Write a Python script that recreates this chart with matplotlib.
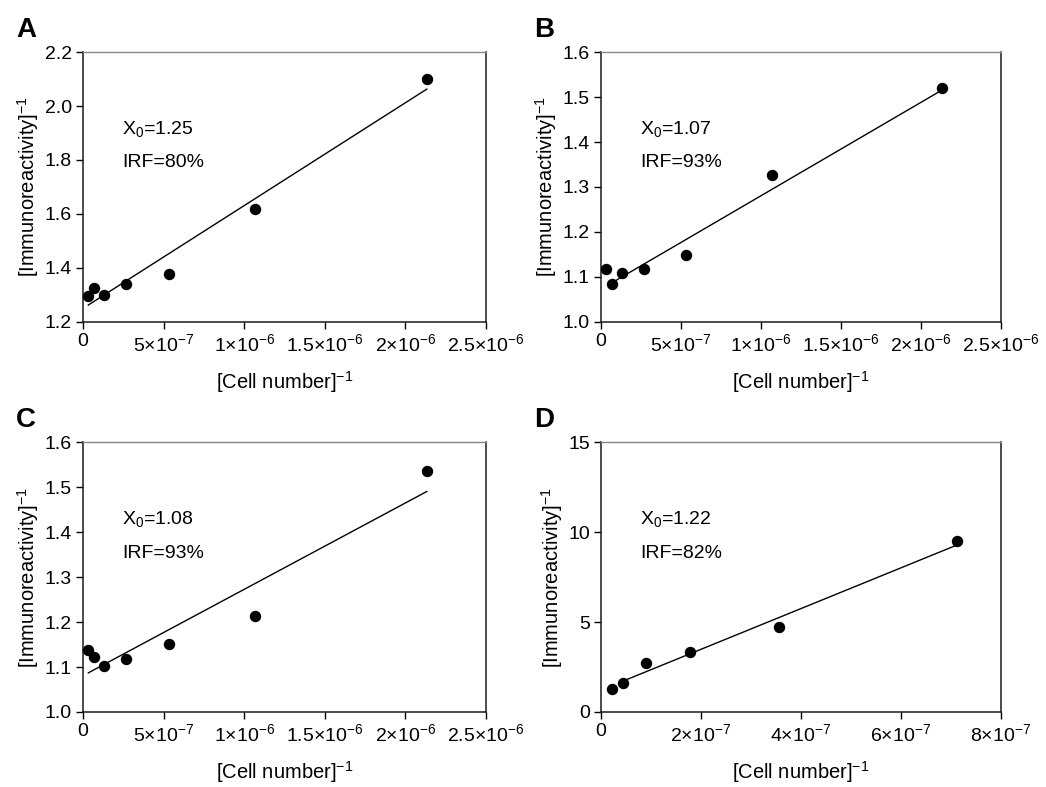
import matplotlib
matplotlib.use('Agg')
import matplotlib.pyplot as plt
import numpy as np

plt.rcParams['font.family'] = ['Liberation Sans', 'DejaVu Sans']
plt.rcParams['mathtext.fontset'] = 'custom'
plt.rcParams['mathtext.rm'] = 'Liberation Sans'
plt.rcParams['mathtext.it'] = 'Liberation Sans'

# --- Data ---
x_abc = [3.33e-8, 6.67e-8, 1.33e-7, 2.67e-7, 5.33e-7, 1.067e-6, 2.133e-6]
y_a = [1.295, 1.324, 1.301, 1.340, 1.379, 1.618, 2.100]
y_b = [1.117, 1.085, 1.108, 1.117, 1.148, 1.327, 1.520]
y_c = [1.137, 1.122, 1.102, 1.117, 1.152, 1.213, 1.535]
x_d = [2.2e-8, 4.45e-8, 8.9e-8, 1.78e-7, 3.56e-7, 7.12e-7]
y_d = [1.28, 1.62, 2.73, 3.32, 4.73, 9.50]

# fitted lines: intercept, slope, x range
fit_a = (1.25, 3.81e5, 3.33e-8, 2.133e-6)
fit_b = (1.073, 2.076e5, 6.67e-8, 2.133e-6)
fit_c = (1.0806, 1.92e5, 3.33e-8, 2.133e-6)
fit_d = (1.22, 1.132e7, 4.45e-8, 7.12e-7)

x0_labels = ['1.25', '1.07', '1.08', '1.22']
irf_labels = ['80%', '93%', '93%', '82%']

xticks_abc = [0, 5e-7, 1e-6, 1.5e-6, 2e-6, 2.5e-6]
xticklabels_abc = ['0', r'5×10$^{-7}$', r'1×10$^{-6}$', r'1.5×10$^{-6}$',
                   r'2×10$^{-6}$', r'2.5×10$^{-6}$']
xticks_d = [0, 2e-7, 4e-7, 6e-7, 8e-7]
xticklabels_d = ['0', r'2×10$^{-7}$', r'4×10$^{-7}$', r'6×10$^{-7}$', r'8×10$^{-7}$']

yticks_a = [1.2, 1.4, 1.6, 1.8, 2.0, 2.2]
yticks_bc = [1.0, 1.1, 1.2, 1.3, 1.4, 1.5, 1.6]
yticks_d = [0, 5, 10, 15]

fig = plt.figure(figsize=(10.46, 7.87), dpi=100)

panels = [
    ('A', [0.0793, 0.5909, 0.3853, 0.343], x_abc, y_a, fit_a, xticks_abc, xticklabels_abc, yticks_a, '%.1f'),
    ('B', [0.5746, 0.5909, 0.3824, 0.343], x_abc, y_b, fit_b, xticks_abc, xticklabels_abc, yticks_bc, '%.1f'),
    ('C', [0.0793, 0.0953, 0.3853, 0.343], x_abc, y_c, fit_c, xticks_abc, xticklabels_abc, yticks_bc, '%.1f'),
    ('D', [0.5746, 0.0953, 0.3824, 0.343], x_d, y_d, fit_d, xticks_d, xticklabels_d, yticks_d, '%d'),
]

for i, (letter, rect, xs, ys, fit, xt, xtl, yt, yfmt) in enumerate(panels):
    ax = fig.add_axes(rect)
    b0, b1, xa, xb = fit
    lx = np.array([xa, xb])
    ax.plot(lx, b0 + b1 * lx, color='black', lw=1.0, zorder=2)
    ax.plot(xs, ys, 'o', color='black', ms=7.2, zorder=3, clip_on=False)

    ax.set_xlim(xt[0], xt[-1])
    ax.set_ylim(yt[0], yt[-1])
    ax.set_xticks(xt)
    ax.set_xticklabels(xtl)
    ax.set_yticks(yt)
    ax.set_yticklabels([yfmt % v for v in yt])
    ax.tick_params(direction='out', length=5, width=1.0, labelsize=14, colors='black', pad=3)

    for s in ['left', 'bottom', 'right']:
        ax.spines[s].set_color('#1a1a1a')
        ax.spines[s].set_linewidth(1.1)
    ax.spines['top'].set_color('#888888')
    ax.spines['top'].set_linewidth(1.0)

    ax.set_xlabel('[Cell number]$^{-1}$', fontsize=14.5, labelpad=10.5)
    ax.set_ylabel('[Immunoreactivity]$^{-1}$', fontsize=14.5, labelpad=2.5)

    ax.text(0.097, 0.715, 'X$_0$=' + x0_labels[i], transform=ax.transAxes,
            fontsize=14, va='center', ha='left')
    ax.text(0.097, 0.589, 'IRF=' + irf_labels[i], transform=ax.transAxes,
            fontsize=14, va='center', ha='left')

    fx = rect[0] - 0.064
    fy = rect[1] + rect[3] + 0.028
    fig.text(fx, fy, letter, fontsize=20, fontweight='bold', va='center', ha='left')

fig.savefig('out.png', dpi=100)
